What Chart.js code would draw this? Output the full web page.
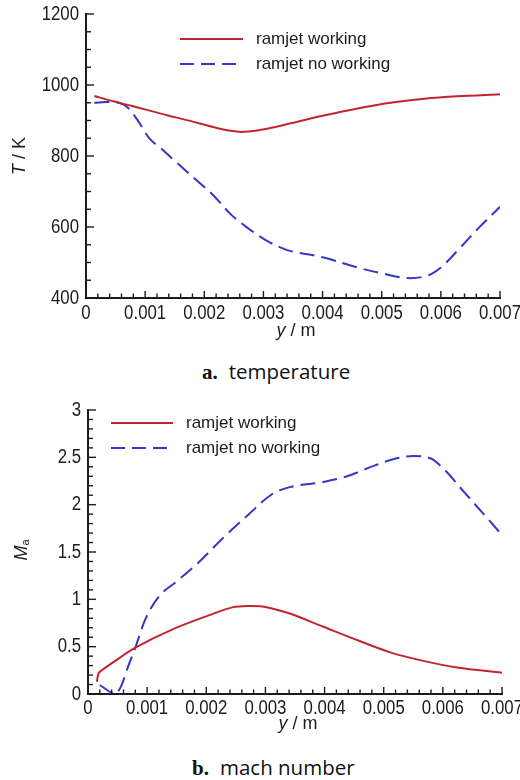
<!DOCTYPE html>
<html><head><meta charset="utf-8">
<script src="https://cdn.jsdelivr.net/npm/chart.js@4.4.1/dist/chart.umd.min.js"></script>
<style>
html,body{margin:0;padding:0;background:#fff;width:520px;height:780px;overflow:hidden;}
.box{position:absolute;left:0;width:520px;}
#w1{top:0;height:345px;}
#w2{top:390px;height:350px;}
canvas{display:block;}
.cap{position:absolute;font-family:"Open Sans","Noto Sans",sans-serif;font-size:20.5px;line-height:22px;color:#111;white-space:nowrap;}
.cap b{font-family:"Liberation Serif","DejaVu Serif",serif;font-weight:bold;margin-right:11px;font-size:21px;}
</style></head>
<body>
<div class="box" id="w1"><canvas id="c1" width="520" height="345"></canvas></div>
<div class="cap" style="left:202px;top:360px;"><b>a.</b>temperature</div>
<div class="box" id="w2"><canvas id="c2" width="520" height="350"></canvas></div>
<div class="cap" style="left:192px;top:756px;"><b>b.</b>mach number</div>
<script>
// ---------- data ----------
const seriesLabels = ['ramjet working', 'ramjet no working'];

// temperature, ramjet working
const yT_work = [0.00014,0.00046,0.00075,0.00103,0.00137,0.00176,0.00216,0.00244,0.00267,0.00306,0.00346,0.00402,0.00459,0.00515,0.00572,0.00628,0.00700];
const T_work  = [969,954,942,930,915,899,881,871,868,877,892,914,934,950,961,968,974];

// temperature, ramjet no working
const yT_no = [0.00014,0.00035,0.00055,0.00069,0.00086,0.00108,0.00125,0.00159,0.00188,0.00216,0.00244,0.00272,0.00306,0.00340,0.00362,0.00402,0.00459,0.00504,0.00544,0.00577,0.00600,0.00628,0.00662,0.00700];
const T_no  = [950,952,950,939,904,848,824,773,730,688,637,599,561,535,527,514,486,468,456,463,486,533,594,657];

// mach number, ramjet working
const yM_work = [0.00015,0.00018,0.00024,0.00046,0.00080,0.00142,0.00204,0.00244,0.00272,0.00300,0.00341,0.00398,0.00455,0.00511,0.00567,0.00624,0.00700];
const M_work  = [0.13,0.22,0.254,0.35,0.49,0.68,0.83,0.915,0.93,0.92,0.85,0.71,0.57,0.44,0.35,0.28,0.225];

// mach number, ramjet no working
const yM_no = [0.00020,0.00046,0.00055,0.00069,0.00080,0.00097,0.00120,0.00148,0.00187,0.00227,0.00272,0.00311,0.00341,0.00398,0.00438,0.00483,0.00522,0.00550,0.00579,0.00601,0.00635,0.00669,0.00700];
const M_no  = [0.095,0.005,0.07,0.31,0.49,0.79,1.03,1.18,1.39,1.64,1.90,2.11,2.185,2.24,2.30,2.41,2.49,2.515,2.49,2.38,2.14,1.90,1.68];

// tick labels
const xTickVals    = [0,0.001,0.002,0.003,0.004,0.005,0.006,0.007];
const tempTickVals = [400,600,800,1000,1200];
const machTickVals = [0,0.5,1,1.5,2,2.5,3];

// ---------- drawing ----------
const RED = '#c1262c', BLUE = '#3636c9', INK = '#1c1c1c';
const FONT = '"Liberation Sans", Arial, sans-serif';
Chart.defaults.font.family = FONT;
Chart.defaults.color = INK;

const pts = (xs, ys) => xs.map((x, i) => ({x: x, y: ys[i]}));
const fmt = v => String(Number(Number(v).toFixed(4)));

function drawMixed(ctx, parts, cx, cy, rot) {
  ctx.save();
  ctx.translate(cx, cy);
  if (rot) ctx.rotate(rot);
  let w = 0;
  parts.forEach(p => {
    ctx.font = (p.italic ? 'italic ' : '') + (p.size || 18) + 'px ' + FONT;
    p.w = ctx.measureText(p.t).width; w += p.w;
  });
  let x = -w / 2;
  ctx.fillStyle = INK; ctx.textBaseline = 'middle'; ctx.textAlign = 'left';
  parts.forEach(p => {
    ctx.font = (p.italic ? 'italic ' : '') + (p.size || 18) + 'px ' + FONT;
    ctx.fillText(p.t, x, p.dy || 0);
    x += p.w;
  });
  ctx.restore();
}

// tick label in a slightly condensed face (the reference uses a narrow sans)
function tickText(ctx, txt, x, y, align) {
  ctx.save();
  ctx.translate(x, y);
  ctx.scale(0.84, 1);
  ctx.font = '20px ' + FONT;
  ctx.fillStyle = INK; ctx.textAlign = align; ctx.textBaseline = 'middle';
  ctx.fillText(txt, 0, 0);
  ctx.restore();
}

function decorPlugin(cfg) {
  return {
    id: 'decor',
    afterDraw(chart) {
      const ctx = chart.ctx, xs = chart.scales.x, ys = chart.scales.y, a = chart.chartArea;
      ctx.save();
      ctx.strokeStyle = INK; ctx.lineWidth = 1.4;
      // inward y ticks
      const yv = cfg.yTicks;
      for (let i = 0; i < yv.length; i++) {
        const p = ys.getPixelForValue(yv[i]);
        ctx.beginPath(); ctx.moveTo(a.left, p); ctx.lineTo(a.left + 8, p); ctx.stroke();
        if (i < yv.length - 1) {
          for (let k = 1; k < cfg.yDiv; k++) {
            const q = ys.getPixelForValue(yv[i] + (yv[i+1] - yv[i]) * k / cfg.yDiv);
            ctx.beginPath(); ctx.moveTo(a.left, q); ctx.lineTo(a.left + 5, q); ctx.stroke();
          }
        }
      }
      // inward x ticks
      for (let i = 0; i < xTickVals.length; i++) {
        const p = xs.getPixelForValue(xTickVals[i]);
        ctx.beginPath(); ctx.moveTo(p, a.bottom); ctx.lineTo(p, a.bottom - 7); ctx.stroke();
        if (i < xTickVals.length - 1) {
          for (let k = 1; k < 5; k++) {
            const q = xs.getPixelForValue(xTickVals[i] + (xTickVals[i+1] - xTickVals[i]) * k / 5);
            ctx.beginPath(); ctx.moveTo(q, a.bottom); ctx.lineTo(q, a.bottom - 4.5); ctx.stroke();
          }
        }
      }
      ctx.restore();
      // tick labels from the library's scale ticks
      xs.ticks.forEach(t => tickText(ctx, fmt(t.value), xs.getPixelForValue(t.value), a.bottom + cfg.xLabOff, 'center'));
      ys.ticks.forEach(t => tickText(ctx, fmt(t.value), a.left - 7, ys.getPixelForValue(t.value), 'right'));
      // legend
      chart.data.datasets.forEach((ds, i) => {
        const ly = cfg.legY[i];
        ctx.save();
        ctx.strokeStyle = ds.borderColor; ctx.lineWidth = ds.borderWidth;
        ctx.setLineDash(ds.borderDash ? [14, 7] : []);
        ctx.beginPath(); ctx.moveTo(cfg.legX0, ly); ctx.lineTo(cfg.legX1, ly); ctx.stroke();
        ctx.restore();
        ctx.save();
        ctx.fillStyle = INK; ctx.font = '17px ' + FONT;
        ctx.textBaseline = 'middle'; ctx.textAlign = 'left';
        ctx.fillText(ds.label, cfg.legTX, ly);
        ctx.restore();
      });
      // axis titles
      drawMixed(ctx, cfg.yTitle, cfg.yTitlePos[0], cfg.yTitlePos[1], -Math.PI / 2);
      drawMixed(ctx, [{t: 'y', italic: true}, {t: ' / m'}], cfg.xTitlePos[0], cfg.xTitlePos[1], 0);
    }
  };
}

function makeChart(id, cfg) {
  return new Chart(document.getElementById(id), {
    type: 'line',
    data: {datasets: [
      {label: seriesLabels[0], data: pts(cfg.xw, cfg.yw), borderColor: RED, borderWidth: 2,
       pointRadius: 0, tension: 0.35, fill: false},
      {label: seriesLabels[1], data: pts(cfg.xn, cfg.yn), borderColor: BLUE, borderWidth: 2,
       borderDash: [15, 7], pointRadius: 0, tension: cfg.blueTension,
       cubicInterpolationMode: cfg.blueMode, fill: false}
    ]},
    options: {
      responsive: false, animation: false, events: [],
      layout: {padding: {left: 0, right: cfg.padR, top: cfg.padT, bottom: 0}},
      plugins: {legend: {display: false}, tooltip: {enabled: false}},
      scales: {
        x: {
          type: 'linear', min: 0, max: 0.007,
          afterBuildTicks: s => { s.ticks = xTickVals.map(v => ({value: v})); },
          afterFit: s => { s.height = cfg.xH; s.paddingLeft = 0; s.paddingRight = 0; },
          grid: {display: false},
          border: {display: true, color: INK, width: 2},
          ticks: {display: false}
        },
        y: {
          type: 'linear', min: cfg.yMin, max: cfg.yMax,
          afterBuildTicks: s => { s.ticks = cfg.yTicks.map(v => ({value: v})); },
          afterFit: s => { s.width = cfg.yW; s.paddingTop = 0; s.paddingBottom = 0; },
          grid: {display: false},
          border: {display: true, color: INK, width: 2},
          ticks: {display: false}
        }
      }
    },
    plugins: [decorPlugin(cfg)]
  });
}

makeChart('c1', {
  xw: yT_work, yw: T_work, xn: yT_no, yn: T_no, blueTension: 0.35, blueMode: 'default',
  yMin: 400, yMax: 1200, yTicks: tempTickVals, yDiv: 4,
  padR: 20, padT: 14, xH: 345 - 298, yW: 86, xLabOff: 15,
  legY: [39, 64], legX0: 180, legX1: 243, legTX: 256,
  yTitle: [{t: 'T', italic: true}, {t: ' / K'}], yTitlePos: [20, 156],
  xTitlePos: [296, 331]
});

makeChart('c2', {
  xw: yM_work, yw: M_work, xn: yM_no, yn: M_no, blueTension: 0, blueMode: 'monotone',
  yMin: 0, yMax: 3, yTicks: machTickVals, yDiv: 5,
  padR: 18, padT: 20, xH: 350 - 304, yW: 88, xLabOff: 14,
  legY: [33, 58], legX0: 111, legX1: 173, legTX: 186,
  yTitle: [{t: 'M', italic: true}, {t: 'a', size: 11, dy: 4}], yTitlePos: [22, 160],
  xTitlePos: [298, 334]
});
</script>
</body></html>
